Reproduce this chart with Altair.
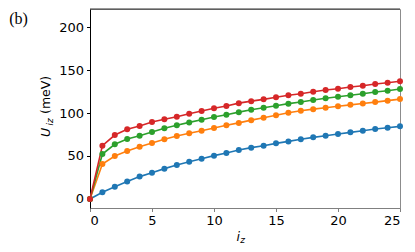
import altair as alt
import pandas as pd

iz = list(range(26))
series_names = ["A", "B", "C", "D"]
colors = ["#1f77b4", "#ff7f0e", "#2ca02c", "#d62728"]

blue = [0, 7.8, 14.3, 20.2, 26.0, 30.6, 35.3, 39.5, 43.4, 46.9, 50.4, 53.5, 57.0,
        59.7, 62.0, 64.7, 67.0, 69.4, 71.7, 73.6, 75.6, 77.5, 79.4, 81.4, 82.9, 84.5]
orange = [0, 40.7, 50.0, 55.8, 60.8, 65.1, 69.4, 73.3, 76.4, 79.4, 82.6, 85.7, 88.5,
          91.7, 94.5, 97.5, 100.3, 102.6, 104.5, 106.2, 107.8, 109.5, 111.1, 112.7, 114.4, 116.2]
green = [0, 52.3, 63.6, 69.8, 73.6, 77.9, 82.2, 85.7, 89.1, 92.2, 95.3, 98.0, 101.0,
         103.7, 106.2, 108.5, 110.9, 112.8, 115.1, 117.1, 119.0, 120.6, 122.5, 124.4, 125.9, 127.9]
red = [0, 62.0, 74.4, 81.0, 84.9, 89.5, 92.7, 95.7, 99.2, 102.3, 105.5, 108.1, 111.5,
       113.8, 115.9, 118.3, 120.6, 122.5, 124.8, 126.7, 128.3, 130.2, 131.7, 133.7, 135.2, 136.9]

x_ticks = [0, 5, 10, 15, 20, 25]
y_ticks = [0, 50, 100, 150, 200]

rows = []
for name, vals in zip(series_names, [blue, orange, green, red]):
    for i, v in zip(iz, vals):
        rows.append({"iz": i, "U": v, "series": name})
df = pd.DataFrame(rows)

FONT = "DejaVu Sans"
LS = 13

x = alt.X("iz:Q", scale=alt.Scale(domain=[0, 25], nice=False),
          axis=alt.Axis(values=x_ticks, title=None, grid=False, domainColor="#808080",
                        tickColor="#808080", tickSize=3.5, labelPadding=3,
                        labelFont=FONT, labelFontSize=LS, labelColor="black"))
y = alt.Y("U:Q", scale=alt.Scale(domain=[-10.5, 221], nice=False, zero=False),
          axis=alt.Axis(values=y_ticks, title=None, grid=False, domainColor="black",
                        tickColor="black", tickSize=3.5, labelPadding=3,
                        labelFont=FONT, labelFontSize=LS, labelColor="black"))
color = alt.Color("series:N", scale=alt.Scale(domain=series_names, range=colors), legend=None)

base = alt.Chart(df).encode(x=x, y=y, color=color, order=alt.Order("iz:Q"))
lines = base.mark_line(strokeWidth=1.6)
pts = base.mark_point(filled=True, size=36, opacity=1)

one = pd.DataFrame({"a": [0]})
top_rule = alt.Chart(one).mark_rule(color="#333333", strokeWidth=1).encode(
    x=alt.value(0), x2=alt.value(310), y=alt.value(0))


def txt(s, xv, yv, size=LS, style="normal", angle=0, font=FONT, baseline="alphabetic", align="left"):
    return alt.Chart(pd.DataFrame({"t": [s]})).mark_text(
        font=font, fontSize=size, fontStyle=style, angle=angle, align=align,
        baseline=baseline, color="black").encode(x=alt.value(xv), y=alt.value(yv), text="t:N")


labels = [
    txt("(b)", -71.5, 9.5, size=16, font="Liberation Serif, Times New Roman, serif",
        baseline="middle", align="center"),
    txt("U", -40.5, 128, size=12.5, style="italic", angle=270),
    txt("iz", -37.5, 116.5, size=9, style="italic", angle=270),
    txt("(meV)", -40.5, 105, size=12.5, angle=270),
    txt("i", 146.5, 231.7, size=12.5, style="italic"),
    txt("z", 150.3, 233.8, size=9, style="italic"),
]

chart = alt.layer(lines, pts, top_rule, *labels).properties(
    width=310, height=199,
    autosize=alt.AutoSizeParams(type="none"),
    padding={"left": 82, "top": 1, "right": 7, "bottom": 36},
).configure_view(stroke="#8c8c8c", strokeWidth=1)

chart.save("out.html", embed_options={"renderer": "svg", "actions": False})
